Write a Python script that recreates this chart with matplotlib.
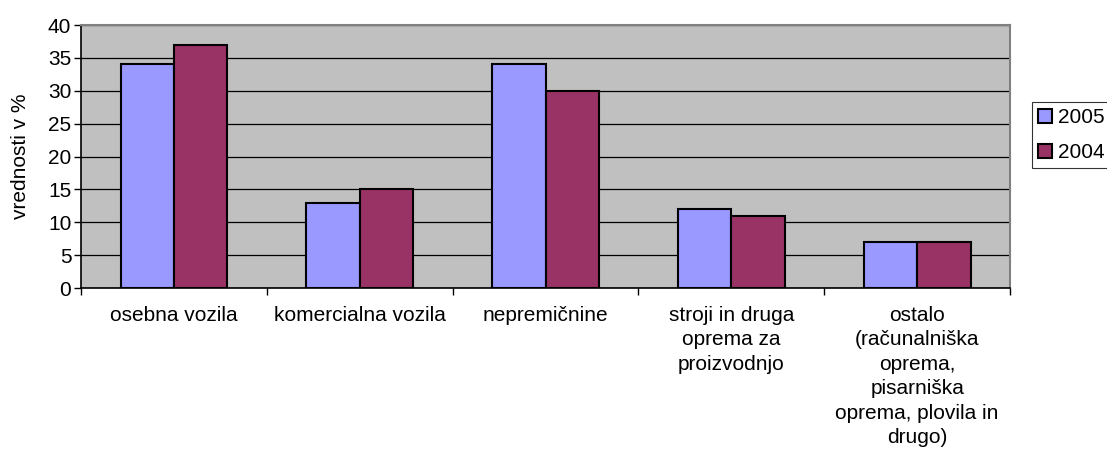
import numpy as np
import matplotlib.pyplot as plt
from matplotlib.ticker import MultipleLocator, FixedLocator

plt.rcParams['font.family'] = ['Liberation Sans', 'DejaVu Sans']

categories = [
    'osebna vozila',
    'komercialna vozila',
    'nepremičnine',
    'stroji in druga\noprema za\nproizvodnjo',
    'ostalo\n(računalniška\noprema,\npisarniška\noprema, plovila in\ndrugo)',
]
years = ['2005', '2004']
values_2005 = [34, 13, 34, 12, 7]
values_2004 = [37, 15, 30, 11, 7]

fs = 15

fig = plt.figure(figsize=(11.07, 4.65), dpi=100)
ax = fig.add_axes([0.0732, 0.3806, 0.8392, 0.5656])
ax.set_facecolor('#c0c0c0')

x = np.arange(len(categories))
w = 0.2875
ax.bar(x - w / 2, values_2005, w, color='#9999ff', edgecolor='black', linewidth=1.5,
       label=years[0], zorder=3)
ax.bar(x + w / 2, values_2004, w, color='#993366', edgecolor='black', linewidth=1.5,
       label=years[1], zorder=3)

ax.set_xlim(-0.5, len(categories) - 0.5)
ax.set_ylim(0, 40)
ax.yaxis.set_major_locator(MultipleLocator(5))
ax.grid(axis='y', color='black', linewidth=0.9, zorder=1)

# category labels centred, tick marks at the category boundaries
ax.set_xticks(x)
ax.set_xticklabels(categories, fontsize=fs, linespacing=1.36)
ax.tick_params(axis='x', length=0, pad=13)
ax.xaxis.set_minor_locator(FixedLocator(np.arange(len(categories) + 1) - 0.5))
ax.tick_params(axis='x', which='minor', length=5, width=1, color='black', direction='out')
ax.tick_params(axis='y', length=5, width=1, labelsize=fs, pad=2)

for s in ['top', 'right']:
    ax.spines[s].set_color('#808080')
    ax.spines[s].set_linewidth(1.5)
for s in ['left', 'bottom']:
    ax.spines[s].set_color('black')
    ax.spines[s].set_linewidth(1.2)
ax.set_ylabel('vrednosti v %', fontsize=fs, labelpad=13)

leg = fig.legend(loc='upper left', bbox_to_anchor=(0.9322, 0.7806), fontsize=fs,
                 frameon=True, fancybox=False, edgecolor='black', handlelength=0.65,
                 handleheight=0.65, handletextpad=0.3, borderpad=0.3, labelspacing=0.75,
                 borderaxespad=0)
leg.get_frame().set_linewidth(0.8)

fig.savefig('out.png', dpi=100)
